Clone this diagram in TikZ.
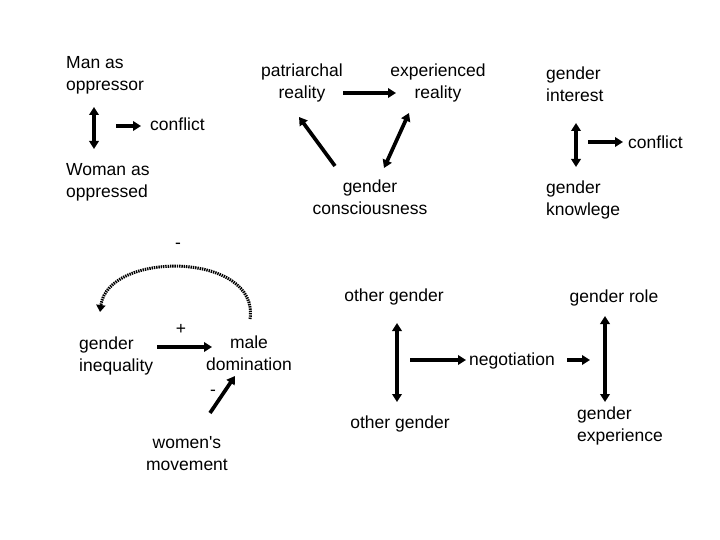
\documentclass[tikz,border=0pt]{standalone}
\usepackage{fontspec}
\setmainfont{Liberation Sans}
\usetikzlibrary{arrows.meta}
\begin{document}
\begin{tikzpicture}[x=1pt,y=-1pt,
  txt/.style={font=\fontsize{17.5}{22}\selectfont, inner sep=0pt, align=center},
  ltxt/.style={txt, align=left},
  arr/.style={line width=3.7pt, -{Triangle[length=8pt,width=9.5pt]}},
  darr/.style={line width=3.7pt, {Triangle[length=8pt,width=9.5pt]}-{Triangle[length=8pt,width=9.5pt]}},
  dotarc/.style={line width=3pt, dash pattern=on 1.4pt off 0.9pt, -{Triangle[length=7pt,width=9pt]}}]
\useasboundingbox[fill=white] (0,0) rectangle (720,540);
% top left
\node[ltxt, anchor=north west] (man) at (66,56) {Man as\\oppressor};
\node[ltxt, anchor=north west] (woman) at (66,163) {Woman as\\oppressed};
\coordinate (mwT) at (94,107);
\coordinate (mwB) at (94,149);
\draw[darr] (mwT) -- (mwB);
\coordinate (c1s) at (116,126);
\coordinate (c1e) at (141,126);
\node[txt, anchor=west] (conf1) at (150,124) {conflict};
\draw[arr] (c1s) -- (c1e);
% triangle
\node[txt] (patr) at (302,83) {patriarchal\\reality};
\node[txt] (exp) at (438,83) {experienced\\reality};
\node[txt] (cons) at (370,197) {gender\\consciousness};
\coordinate (pe1) at (343,93);
\coordinate (pe2) at (396,93);
\draw[arr] (pe1) -- (pe2);
\coordinate (cp1) at (335,166);
\coordinate (cp2) at (299,117);
\draw[arr] (cp1) -- (cp2);
\coordinate (ce1) at (384,168);
\coordinate (ce2) at (409,113);
\draw[darr] (ce1) -- (ce2);
% top right
\node[ltxt, anchor=north west] (gint) at (546,67) {gender\\interest};
\node[ltxt, anchor=north west] (gknow) at (546,181) {gender\\knowlege};
\coordinate (gkT) at (576,123);
\coordinate (gkB) at (576,167);
\draw[darr] (gkT) -- (gkB);
\node[txt, anchor=west] (conf2) at (628,142) {conflict};
\coordinate (c2s) at (588,142);
\coordinate (c2e) at (623,142);
\draw[arr] (c2s) -- (c2e);
% bottom left
\node[ltxt, anchor=north west] (ineq) at (79,337) {gender\\inequality};
\node[txt] (male) at (249,353) {male\\domination};
\node[txt] (women) at (187,454) {women\textquotesingle s\\movement};
\node[txt] (minus1) at (178,246) {-};
\node[txt] (plus) at (181,329) {+};
\node[txt] (minus2) at (213,393) {-};
\coordinate (arcS) at (250,319);
\coordinate (arcE) at (100,312);
\draw[dotarc] (arcS) .. controls (260,252) and (108,250) .. (arcE);
\coordinate (im1) at (157,347);
\coordinate (im2) at (212,347);
\draw[arr] (im1) -- (im2);
\coordinate (wm1) at (210,413);
\coordinate (wm2) at (235,376);
\draw[arr] (wm1) -- (wm2);
% bottom right
\node[txt] (og1) at (394,297) {other gender};
\node[txt] (og2) at (400,424) {other gender};
\node[txt] (neg) at (512,361) {negotiation};
\node[txt] (grole) at (614,298) {gender role};
\node[ltxt, anchor=north west] (gexp) at (577,407) {gender\\experience};
\coordinate (ogT) at (397,323);
\coordinate (ogB) at (397,402);
\draw[darr] (ogT) -- (ogB);
\coordinate (n1) at (410,360);
\coordinate (n1e) at (466,360);
\draw[arr] (n1) -- (n1e);
\coordinate (n2) at (567,360);
\coordinate (n3) at (590,360);
\draw[arr] (n2) -- (n3);
\coordinate (grT) at (605,316);
\coordinate (grB) at (605,402);
\draw[darr] (grT) -- (grB);
\end{tikzpicture}
\end{document}
